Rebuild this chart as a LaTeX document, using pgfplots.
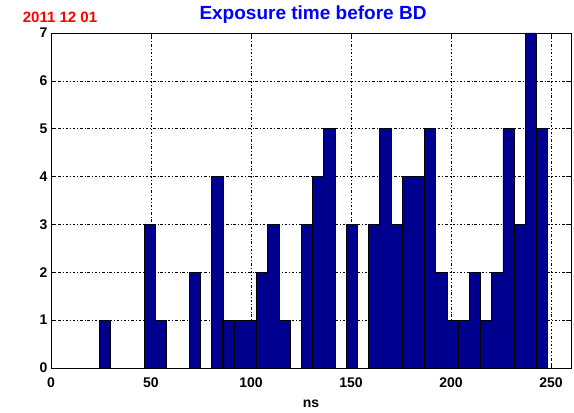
\documentclass[border=0pt]{standalone}
\usepackage{pgfplots}
\pgfplotsset{compat=1.18}
\usepackage{fontspec}
\setmainfont{Liberation Sans}
\definecolor{barblue}{rgb}{0,0,0.5625}
\begin{document}
\begin{tikzpicture}
\begin{axis}[
  scale only axis,
  width=520pt, height=335pt,
  xmin=0, xmax=260, ymin=0, ymax=7,
  xtick={0,50,100,150,200,250},
  ytick={0,1,2,3,4,5,6,7},
  tick pos=both, tick align=inside,
  major tick length=5pt,
  every tick/.style={black, line width=0.6pt},
  axis line style={black, line width=0.9pt},
  grid=major,
  major grid style={black, line width=0.7pt, dash pattern=on 2.5pt off 2pt on 0.8pt off 2pt},
  /pgf/number format/assume math mode=true,
  ticklabel style={font=\fontsize{14}{14}\selectfont\bfseries, inner sep=0pt},
  xticklabel style={anchor=base, yshift=-20pt},
  yticklabel style={anchor=east, xshift=-3.5pt},
  clip=false,
  axis on top=false,
]
\addplot[ybar, bar width=5.6, bar shift=0pt, fill=barblue, draw=black, line width=0.6pt]
coordinates {
(27.1,1) (49.5,3) (55.1,1) (71.9,2) (83.1,4) (88.7,1) (94.3,1) (99.9,1)
(105.5,2) (111.1,3) (116.7,1) (127.9,3) (133.5,4) (139.1,5) (150.3,3)
(161.5,3) (167.1,5) (172.7,3) (178.3,4) (183.9,4) (189.5,5) (195.1,2)
(200.7,1) (206.3,1) (211.9,2) (217.5,1) (223.1,2) (228.7,5) (234.3,3)
(239.9,7) (245.5,5)
};
\coordinate (bl) at (rel axis cs:0,0);
\coordinate (tr) at (rel axis cs:1,1);
\node[anchor=base, yshift=-40pt, font=\fontsize{14}{14}\selectfont\bfseries] at (rel axis cs:0.5,0) {ns};
\node[anchor=base, yshift=13pt, xshift=2pt, font=\fontsize{19}{19}\selectfont\bfseries, text=blue] at (rel axis cs:0.5,1) {Exposure time before BD};
\node[anchor=base west, inner sep=0pt, yshift=10.3pt, xshift=-28.3pt, font=\fontsize{15}{15}\selectfont\bfseries, text=red] at (rel axis cs:0,1) {2011 12 01};
\end{axis}
\pgfresetboundingbox
\path ([shift={(-51pt,-45pt)}]bl) rectangle ([shift={(3pt,33pt)}]tr);
\end{tikzpicture}
\end{document}
